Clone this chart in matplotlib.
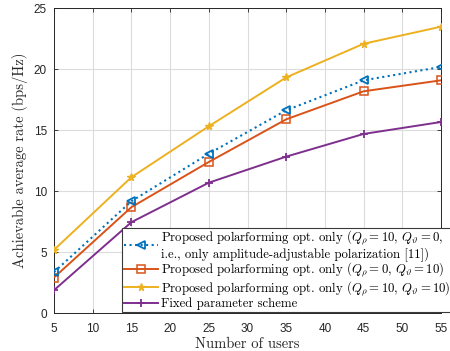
import matplotlib
matplotlib.use("Agg")
import matplotlib.pyplot as plt

users = [5, 15, 25, 35, 45, 55]
rate_amp_only = [3.36, 9.18, 13.08, 16.64, 19.10, 20.20]
rate_phase_only = [2.92, 8.69, 12.40, 15.90, 18.20, 19.10]
rate_full = [5.19, 11.15, 15.33, 19.34, 22.10, 23.50]
rate_fixed = [1.88, 7.46, 10.70, 12.84, 14.70, 15.68]

labels = [
    "Proposed polarforming opt. only ($Q_\\rho=10$, $Q_\\vartheta=0$,\n"
    "i.e., only amplitude-adjustable polarization [11])",
    "Proposed polarforming opt. only ($Q_\\rho=0$, $Q_\\vartheta=10$)",
    "Proposed polarforming opt. only ($Q_\\rho=10$, $Q_\\vartheta=10$)",
    "Fixed parameter scheme",
]
xticks = [5, 10, 15, 20, 25, 30, 35, 40, 45, 50, 55]
yticks = [0, 5, 10, 15, 20, 25]

plt.rcParams["mathtext.fontset"] = "cm"
serif = ["cmr10", "DejaVu Serif"]
plt.rcParams["axes.unicode_minus"] = False

fig = plt.figure(figsize=(4.5, 3.51), dpi=100)
ax = fig.add_axes([0.12, 0.108, 0.86, 0.868])

blue, red, yellow, purple = "#0072BD", "#D95319", "#EDB120", "#7E2F8E"
ax.plot(users, rate_amp_only, ls=":", lw=1.5, color=blue, marker="<",
        ms=6, mfc="none", mew=1.3, label=labels[0], zorder=4)
ax.plot(users, rate_phase_only, ls="-", lw=1.4, color=red, marker="s",
        ms=5.5, mfc="none", mew=1.1, label=labels[1], zorder=3)
ax.plot(users, rate_full, ls="-", lw=1.4, color=yellow, marker="*",
        ms=5.5, label=labels[2], zorder=3)
ax.plot(users, rate_fixed, ls="-", lw=1.4, color=purple, marker="+",
        ms=6, mew=1.3, label=labels[3], zorder=3)

ax.set_xlim(5, 55)
ax.set_ylim(0, 25)
ax.set_xticks(xticks)
ax.set_yticks(yticks)
ax.grid(True, color="#dcdcdc", lw=0.8)
ax.set_axisbelow(True)
ax.tick_params(direction="in", top=True, right=True, length=3,
               width=0.6, colors="#262626", labelsize=8.5)
ax.tick_params(axis="x", pad=7)
ax.tick_params(axis="y", pad=5)
for lab in ax.get_xticklabels() + ax.get_yticklabels():
    lab.set_family("Liberation Sans")
for s in ax.spines.values():
    s.set_color("#262626")
    s.set_linewidth(0.7)

ax.set_xlabel("Number of users", family=serif, fontsize=10.5, color="#262626", labelpad=2)
ax.set_ylabel("Achievable average rate (bps/Hz)", family=serif, fontsize=10.5,
              color="#262626", labelpad=4)

leg = ax.legend(loc="lower left", bbox_to_anchor=(0.176, 0.004),
                prop={"family": serif, "size": 9.2}, fancybox=False,
                framealpha=1, edgecolor="#3a3a3a", borderpad=0.12,
                labelspacing=0.0, handlelength=2.7, handletextpad=0.25,
                borderaxespad=0)
for t in leg.get_texts():
    t.set_linespacing(1.0)
leg.get_frame().set_linewidth(0.8)
leg.set_zorder(10)

fig.savefig("out.png", dpi=100)
